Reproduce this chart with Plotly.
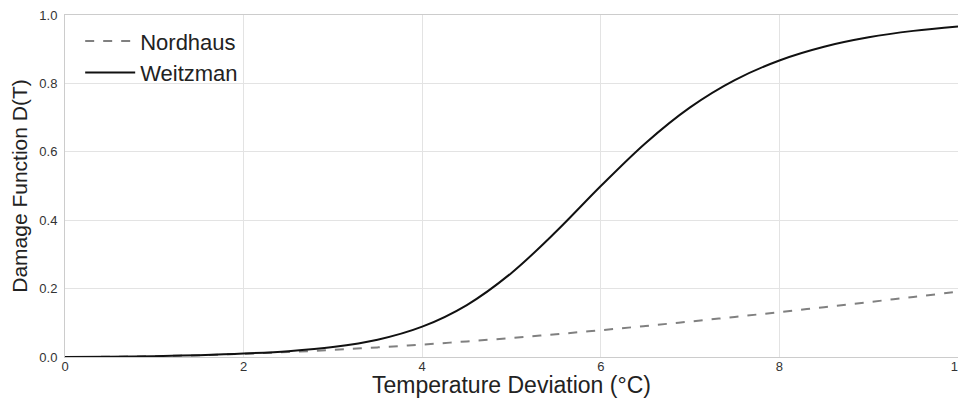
import plotly.graph_objects as go

temperature = [0, 0.5, 1, 1.5, 2, 2.5, 3, 3.5, 4, 4.5, 5, 5.5, 6, 6.5, 7, 7.5, 8, 8.5, 9, 9.5, 10]
nordhaus = [0.0, 0.0006, 0.0024, 0.0053, 0.0094, 0.0145, 0.0208, 0.0281, 0.0364, 0.0456, 0.0557,
            0.0666, 0.0783, 0.0907, 0.1037, 0.1172, 0.1312, 0.1457, 0.1605, 0.1756, 0.1909]
weitzman = [0.0, 0.0006, 0.0024, 0.0054, 0.0100, 0.0171, 0.0291, 0.0505, 0.0887, 0.1520, 0.2459,
            0.3669, 0.4999, 0.6253, 0.7300, 0.8098, 0.8671, 0.9072, 0.9347, 0.9536, 0.9667]
x_ticks = [0, 2, 4, 6, 8, 10]
y_ticks = [0.0, 0.2, 0.4, 0.6, 0.8, 1.0]
y_tick_labels = ["0.0", "0.2", "0.4", "0.6", "0.8", "1.0"]
x_title = "Temperature Deviation (°C)"
y_title = "Damage Function D(T)"

fig = go.Figure()
fig.add_trace(go.Scatter(x=temperature, y=nordhaus, mode="lines", name="Nordhaus",
                         line=dict(color="#808080", width=2, dash="dash", shape="spline")))
fig.add_trace(go.Scatter(x=temperature, y=weitzman, mode="lines", name="Weitzman",
                         line=dict(color="#111111", width=2, shape="spline")))

axis_common = dict(showgrid=True, gridcolor="#e3e3e3", gridwidth=1, zeroline=False,
                   showline=True, linecolor="#cccccc", linewidth=1, mirror=True,
                   automargin=False, ticklabeloverflow="allow",
                   ticks="", tickfont=dict(family="Liberation Sans, Arial", size=13, color="#333333"))

# page body has an 8px margin, so the figure is offset to land on the same pixels as the reference
fig.update_layout(
    width=958, height=393,
    margin=dict(l=57, r=8, t=7, b=44),
    paper_bgcolor="white", plot_bgcolor="white",
    font=dict(family="Liberation Sans, Arial", color="#222222"),
    showlegend=True,
    legend=dict(x=0.017, y=0.985, xanchor="left", yanchor="top", bgcolor="rgba(255,255,255,0)",
                font=dict(size=22, color="#222222"), itemwidth=50, tracegroupgap=0),
    xaxis=dict(range=[0, 10], tickvals=x_ticks, ticktext=[str(t) for t in x_ticks],
               ticklabelstandoff=-3, **axis_common),
    yaxis=dict(range=[0, 1.0], tickvals=y_ticks, ticktext=y_tick_labels, ticklabelstandoff=4,
               title=dict(text=y_title, font=dict(size=21, color="#222222"), standoff=6),
               **axis_common),
    annotations=[dict(text=x_title, xref="paper", yref="paper", x=0.5, y=0, xanchor="center",
                      yanchor="middle", yshift=-28, showarrow=False,
                      font=dict(size=23, color="#222222"))],
)

fig.write_html("out.html")
